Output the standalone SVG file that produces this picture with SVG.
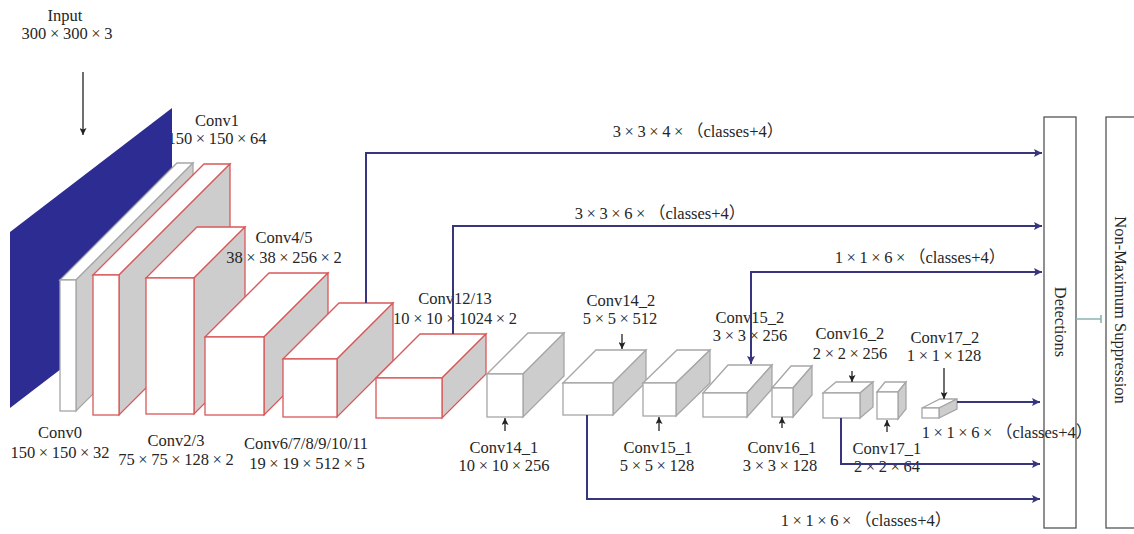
<svg xmlns="http://www.w3.org/2000/svg" width="1134" height="534" viewBox="0 0 1134 534">
<style>
  text { font-family: "Liberation Serif", "Times New Roman", serif; font-size: 16.5px; fill: #262626; text-anchor: middle; }
  .x { letter-spacing: 3.6px; }
  .cjk { font-family: "Noto Sans CJK SC", sans-serif; }
  .top { fill: #ffffff; }
  .side { fill: #cdcdcd; }
  .front { fill: #ffffff; }
  .red polygon, .red rect { stroke: #d9585a; stroke-width: 1.3; }
  .grey polygon, .grey rect { stroke: #a6a6a6; stroke-width: 1.3; }
  .conn { fill: none; stroke: #36357d; stroke-width: 2; }
  .ptr { fill: none; stroke: #222; stroke-width: 1.3; }
  .panel { fill: #fff; stroke: #555; stroke-width: 1.3; }
</style>
<defs>
  <marker id="ah" viewBox="0 0 10 10" refX="10" refY="5" markerUnits="userSpaceOnUse" markerWidth="10" markerHeight="8" orient="auto-start-reverse">
    <path d="M0,0 L10,5 L0,10 L2,5 z" fill="#36357d"/>
  </marker>
  <marker id="bh" viewBox="0 0 10 10" refX="10" refY="5" markerUnits="userSpaceOnUse" markerWidth="8" markerHeight="7" orient="auto">
    <path d="M0,0 L10,5 L0,10 L2,5 z" fill="#222"/>
  </marker>
</defs>

<g id="label-conv1">
  <text x="217" y="126">Conv1</text>
  <text x="217" y="144">150<tspan class="x" dx="3.6">×</tspan>150<tspan class="x" dx="3.6">×</tspan>64</text>
</g>

<g id="input">
  <polygon points="10,232 172,108 172,284 10,408" fill="#2c2c92"/>
  <text x="65" y="21">Input</text>
  <text x="67" y="39">300<tspan class="x" dx="3.6">×</tspan>300<tspan class="x" dx="3.6">×</tspan>3</text>
</g>

<g id="conv0" class="grey">
  <polygon class="top" points="60,280 177,163 193,163 76,280"/>
  <polygon class="side" points="76,280 193,163 193,294 76,411"/>
  <rect class="front" x="60" y="280" width="16" height="131"/>
  <text x="60" y="438">Conv0</text>
  <text x="60" y="458">150<tspan class="x" dx="3.6">×</tspan>150<tspan class="x" dx="3.6">×</tspan>32</text>
</g>

<g id="conv1" class="red">
  <polygon class="top" points="93,275 204,164 230,164 119,275"/>
  <polygon class="side" points="119,275 230,164 230,304 119,415"/>
  <rect class="front" x="93" y="275" width="26" height="140"/>
</g>

<g id="conv2_3" class="red">
  <polygon class="top" points="146,278 197,227 245,227 194,278"/>
  <polygon class="side" points="194,278 245,227 245,363 194,414"/>
  <rect class="front" x="146" y="278" width="48" height="136"/>
  <text x="176" y="446">Conv2/3</text>
  <text x="176" y="465">75<tspan class="x" dx="3.6">×</tspan>75<tspan class="x" dx="3.6">×</tspan>128<tspan class="x" dx="3.6">×</tspan>2</text>
</g>

<g id="conv4_5" class="red">
  <polygon class="top" points="205,337 269,273 328,273 264,337"/>
  <polygon class="side" points="264,337 328,273 328,351 264,415"/>
  <rect class="front" x="205" y="337" width="59" height="78"/>
  <text x="284" y="243">Conv4/5</text>
  <text x="284" y="263">38<tspan class="x" dx="3.6">×</tspan>38<tspan class="x" dx="3.6">×</tspan>256<tspan class="x" dx="3.6">×</tspan>2</text>
</g>

<g id="conv6_11" class="red">
  <polygon class="top" points="283,359 339,303 393,303 337,359"/>
  <polygon class="side" points="337,359 393,303 393,361 337,417"/>
  <rect class="front" x="283" y="359" width="54" height="58"/>
  <text x="306" y="449">Conv6/7/8/9/10/11</text>
  <text x="307" y="469">19<tspan class="x" dx="3.6">×</tspan>19<tspan class="x" dx="3.6">×</tspan>512<tspan class="x" dx="3.6">×</tspan>5</text>
</g>

<g id="conv12_13" class="red">
  <polygon class="top" points="376,378 420,334 486,334 442,378"/>
  <polygon class="side" points="442,378 486,334 486,374 442,418"/>
  <rect class="front" x="376" y="378" width="66" height="40"/>
  <text x="455" y="304">Conv12/13</text>
  <text x="455" y="324">10<tspan class="x" dx="3.6">×</tspan>10<tspan class="x" dx="3.6">×</tspan>1024<tspan class="x" dx="3.6">×</tspan>2</text>
</g>

<g id="conv14_1" class="grey">
  <polygon class="top" points="487,374 528,333 564,333 523,374"/>
  <polygon class="side" points="523,374 564,333 564,376 523,417"/>
  <rect class="front" x="487" y="374" width="36" height="43"/>
  <text x="504" y="453">Conv14_1</text>
  <text x="504" y="471">10<tspan class="x" dx="3.6">×</tspan>10<tspan class="x" dx="3.6">×</tspan>256</text>
</g>

<g id="conv14_2" class="grey">
  <polygon class="top" points="563,383 596,350 646,350 613,383"/>
  <polygon class="side" points="613,383 646,350 646,382 613,415"/>
  <rect class="front" x="563" y="383" width="50" height="32"/>
  <text x="621" y="306">Conv14_2</text>
  <text x="620" y="324">5<tspan class="x" dx="3.6">×</tspan>5<tspan class="x" dx="3.6">×</tspan>512</text>
</g>

<g id="conv15_1" class="grey">
  <polygon class="top" points="643,383 677,350 710,350 676,383"/>
  <polygon class="side" points="676,383 710,350 710,383 676,416"/>
  <rect class="front" x="643" y="383" width="33" height="33"/>
  <text x="658" y="453">Conv15_1</text>
  <text x="657" y="471">5<tspan class="x" dx="3.6">×</tspan>5<tspan class="x" dx="3.6">×</tspan>128</text>
</g>

<g id="conv15_2" class="grey">
  <polygon class="top" points="703,393 728,365 772,365 747,393"/>
  <polygon class="side" points="747,393 772,365 772,389 747,417"/>
  <rect class="front" x="703" y="393" width="44" height="24"/>
  <text x="750" y="323">Conv15_2</text>
  <text x="750" y="341">3<tspan class="x" dx="3.6">×</tspan>3<tspan class="x" dx="3.6">×</tspan>256</text>
</g>

<g id="conv16_1" class="grey">
  <polygon class="top" points="772,388 791,366 812,366 793,388"/>
  <polygon class="side" points="793,388 812,366 812,395 793,417"/>
  <rect class="front" x="772" y="388" width="21" height="29"/>
  <text x="782" y="453">Conv16_1</text>
  <text x="780" y="471">3<tspan class="x" dx="3.6">×</tspan>3<tspan class="x" dx="3.6">×</tspan>128</text>
</g>

<g id="conv16_2" class="grey">
  <polygon class="top" points="823,393 836,382 873,382 860,393"/>
  <polygon class="side" points="860,393 873,382 873,407 860,418"/>
  <rect class="front" x="823" y="393" width="37" height="25"/>
  <text x="850" y="339">Conv16_2</text>
  <text x="850" y="359">2<tspan class="x" dx="3.6">×</tspan>2<tspan class="x" dx="3.6">×</tspan>256</text>
</g>

<g id="conv17_1" class="grey">
  <polygon class="top" points="877,392 885,382 906,382 898,392"/>
  <polygon class="side" points="898,392 906,382 906,409 898,419"/>
  <rect class="front" x="877" y="392" width="21" height="27"/>
  <text x="887" y="454">Conv17_1</text>
  <text x="887" y="472">2<tspan class="x" dx="3.6">×</tspan>2<tspan class="x" dx="3.6">×</tspan>64</text>
</g>

<g id="conv17_2" class="grey">
  <polygon class="top" points="922,408 940,399 957,399 939,408"/>
  <polygon class="side" points="939,408 957,399 957,409 939,418"/>
  <rect class="front" x="922" y="408" width="17" height="10"/>
  <text x="945" y="343">Conv17_2</text>
  <text x="944" y="361">1<tspan class="x" dx="3.6">×</tspan>1<tspan class="x" dx="3.6">×</tspan>128</text>
</g>

<g id="detections">
  <rect class="panel" x="1044" y="117" width="32" height="411"/>
  <text transform="translate(1060,322) rotate(90)" y="5.5">Detections</text>
</g>

<g id="nms">
  <rect class="panel" x="1106" y="117" width="40" height="411"/>
  <text transform="translate(1120,310) rotate(90)" y="5.5">Non-Maximum Suppression</text>
</g>

<g id="connector-labels">
  <text x="698" y="137">3<tspan class="x" dx="3.6">×</tspan>3<tspan class="x" dx="3.6">×</tspan>4<tspan class="x" dx="3.6">×</tspan><tspan class="cjk">（</tspan>classes+4<tspan class="cjk">）</tspan></text>
  <text x="660" y="219">3<tspan class="x" dx="3.6">×</tspan>3<tspan class="x" dx="3.6">×</tspan>6<tspan class="x" dx="3.6">×</tspan><tspan class="cjk">（</tspan>classes+4<tspan class="cjk">）</tspan></text>
  <text x="920" y="263">1<tspan class="x" dx="3.6">×</tspan>1<tspan class="x" dx="3.6">×</tspan>6<tspan class="x" dx="3.6">×</tspan><tspan class="cjk">（</tspan>classes+4<tspan class="cjk">）</tspan></text>
  <text x="1007" y="438">1<tspan class="x" dx="3.6">×</tspan>1<tspan class="x" dx="3.6">×</tspan>6<tspan class="x" dx="3.6">×</tspan><tspan class="cjk">（</tspan>classes+4<tspan class="cjk">）</tspan></text>
  <text x="866" y="526">1<tspan class="x" dx="3.6">×</tspan>1<tspan class="x" dx="3.6">×</tspan>6<tspan class="x" dx="3.6">×</tspan><tspan class="cjk">（</tspan>classes+4<tspan class="cjk">）</tspan></text>
</g>

<g id="connectors">
  <path class="conn" d="M366,303 V153 H1042" marker-end="url(#ah)"/>
  <path class="conn" d="M453,334 V226 H1042" marker-end="url(#ah)"/>
  <path class="conn" d="M751,364 V272 H1042" marker-start="url(#ah)" marker-end="url(#ah)"/>
  <path class="conn" d="M957,402 H1040" marker-end="url(#ah)"/>
  <path class="conn" d="M841,418 V464 H1040" marker-end="url(#ah)"/>
  <path class="conn" d="M587,415 V499 H1040" marker-end="url(#ah)"/>
  <path d="M1076,319 H1101 M1101,315 V323" fill="none" stroke="#8ab5ae" stroke-width="1.6"/>
  <path class="ptr" d="M83,72 V135" marker-end="url(#bh)"/>
  <path class="ptr" d="M622,334 V349" marker-end="url(#bh)"/>
  <path class="ptr" d="M505,431 V418" marker-end="url(#bh)"/>
  <path class="ptr" d="M659,431 V417" marker-end="url(#bh)"/>
  <path class="ptr" d="M782,428 V417" marker-end="url(#bh)"/>
  <path class="ptr" d="M852,371 V382" marker-end="url(#bh)"/>
  <path class="ptr" d="M887,432 V420" marker-end="url(#bh)"/>
  <path class="ptr" d="M944,368 V399" marker-end="url(#bh)"/>
</g>
</svg>
